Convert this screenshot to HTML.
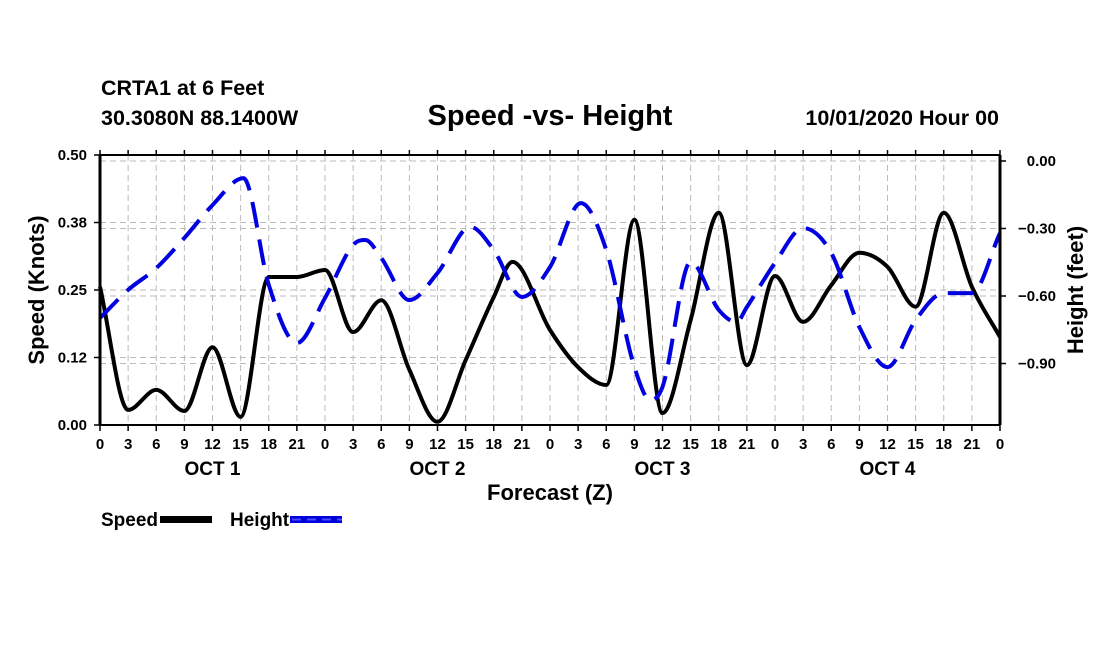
<!DOCTYPE html>
<html><head><meta charset="utf-8"><style>
html,body{margin:0;padding:0;background:#fff;}
svg{display:block;font-family:"Liberation Sans",Arial,sans-serif;font-weight:bold;}
</style></head><body>
<svg id="chart" width="1100" height="650" viewBox="0 0 1100 650">
<text x="101" y="95" font-size="21.5">CRTA1 at 6 Feet</text>
<text x="101" y="125" font-size="21.5">30.3080N 88.1400W</text>
<text x="550" y="125" font-size="29" text-anchor="middle">Speed -vs- Height</text>
<text x="999" y="125" font-size="21.5" text-anchor="end">10/01/2020 Hour 00</text>
<g id="grid"></g>
<g id="marks"></g>
<g id="axes"></g>
<text transform="translate(44,290) rotate(-90)" font-size="22" text-anchor="middle">Speed (Knots)</text>
<text transform="translate(1083,290) rotate(-90)" font-size="22" text-anchor="middle">Height (feet)</text>
<text x="550" y="500" font-size="22" text-anchor="middle">Forecast (Z)</text>
<g>
<text x="101" y="526" font-size="19">Speed</text>
<rect x="160" y="516" width="52" height="7" fill="#000"/>
<text x="230" y="526" font-size="19">Height</text>
<rect x="290" y="516" width="52" height="7" fill="#0000dd"/>
<line x1="292" y1="519.5" x2="342" y2="519.5" stroke="#4a4aff" stroke-width="2" stroke-dasharray="9,6"/>
</g>
</svg>
<script>
const speedHours=[0,3,6,9,12,15,18,21,24,27,30,33,36,39,42,44,48,51,54,57,60,63,66,69,72,75,78,81,84,87,90,93,96];
const speedValues=[0.256,0.028,0.065,0.026,0.144,0.015,0.274,0.274,0.287,0.172,0.231,0.102,0.006,0.120,0.237,0.302,0.176,0.107,0.074,0.380,0.022,0.194,0.393,0.111,0.276,0.191,0.259,0.319,0.293,0.219,0.393,0.256,0.163];
const heightHours=[0,3,6,9,12,15.3,18,21,24,27,28.3,30,33,36,39.5,42,45,48,51.3,54,57,58.7,60,63,66,67.9,69,72,75,78,81,84,87,90,93,96];
const heightValues=[-0.698,-0.573,-0.476,-0.342,-0.196,-0.076,-0.551,-0.809,-0.609,-0.373,-0.351,-0.431,-0.618,-0.498,-0.293,-0.396,-0.604,-0.471,-0.187,-0.396,-0.916,-1.062,-1.004,-0.449,-0.662,-0.716,-0.649,-0.453,-0.298,-0.409,-0.738,-0.916,-0.707,-0.587,-0.587,-0.320];
const hourTickLabels=["0","3","6","9","12","15","18","21","0","3","6","9","12","15","18","21","0","3","6","9","12","15","18","21","0","3","6","9","12","15","18","21","0"];
const dayLabels=["OCT 1","OCT 2","OCT 3","OCT 4"];
const speedTicks=[0,0.125,0.25,0.375,0.5];
const speedTickLabels=["0.00","0.12","0.25","0.38","0.50"];
const heightTicks=[0,-0.3,-0.6,-0.9];
const heightTickLabels=["0.00","\u22120.30","\u22120.60","\u22120.90"];

const L=100,R=1000,T=155,B=425;
const x=h=>L+h*(R-L)/96;
const yS=v=>B-v*540;
const yH=v=>161-v*225;
const NS="http://www.w3.org/2000/svg";
function mk(tag,attrs,parent){const e=document.createElementNS(NS,tag);for(const k in attrs)e.setAttribute(k,attrs[k]);parent.appendChild(e);return e;}
const grid=document.getElementById('grid'),marks=document.getElementById('marks'),axes=document.getElementById('axes');

for(let i=1;i<32;i++){
  const l=mk('line',{x1:x(i*3),x2:x(i*3),y1:T,y2:B,stroke:'#bbb','stroke-width':1,'stroke-dasharray':'6,4'},grid);
  
  
}
speedTicks.forEach(v=>{const l=mk('line',{x1:L,x2:R,y1:yS(v),y2:yS(v),stroke:'#bbb','stroke-width':1,'stroke-dasharray':'6,4'},grid);
  
  });
heightTicks.forEach(v=>{const l=mk('line',{x1:L,x2:R,y1:yH(v),y2:yH(v),stroke:'#bbb','stroke-width':1,'stroke-dasharray':'6,4'},grid);
  
  });

function monotone(hs,vs,yf){
  const px=hs.map(x),py=vs.map(yf),n=px.length;
  const d=[],m=[];
  for(let i=0;i<n-1;i++)d.push((py[i+1]-py[i])/(px[i+1]-px[i]));
  m[0]=d[0];m[n-1]=d[n-2];
  for(let i=1;i<n-1;i++){m[i]=(d[i-1]*d[i]<=0)?0:(d[i-1]+d[i])/2;}
  for(let i=0;i<n-1;i++){
    if(d[i]===0){m[i]=0;m[i+1]=0;continue;}
    const a=m[i]/d[i],b=m[i+1]/d[i],s=a*a+b*b;
    if(s>9){const t=3/Math.sqrt(s);m[i]=t*a*d[i];m[i+1]=t*b*d[i];}
  }
  let p='M'+px[0].toFixed(1)+','+py[0].toFixed(1);
  for(let i=0;i<n-1;i++){
    const h=(px[i+1]-px[i])/3;
    p+=' C'+(px[i]+h).toFixed(1)+','+(py[i]+m[i]*h).toFixed(1)+' '+(px[i+1]-h).toFixed(1)+','+(py[i+1]-m[i+1]*h).toFixed(1)+' '+px[i+1].toFixed(1)+','+py[i+1].toFixed(1);
  }
  return p;
}
const sp=mk('path',{d:monotone(speedHours,speedValues,yS),fill:'none',stroke:'#000','stroke-width':4,'stroke-linejoin':'round'},marks);


const hp=mk('path',{d:monotone(heightHours,heightValues,yH),fill:'none',stroke:'#0000e0','stroke-width':4,'stroke-dasharray':'26,12'},marks);



mk('line',{x1:L,x2:R,y1:T,y2:T,stroke:'#000','stroke-width':2},axes);
mk('line',{x1:L,x2:R,y1:B,y2:B,stroke:'#000','stroke-width':2},axes);
mk('line',{x1:L,x2:L,y1:T,y2:B,stroke:'#000','stroke-width':3},axes);
mk('line',{x1:R,x2:R,y1:T,y2:B,stroke:'#000','stroke-width':3},axes);
hourTickLabels.forEach((lab,i)=>{
  const xx=x(i*3);
  mk('line',{x1:xx,x2:xx,y1:B,y2:B+6,stroke:'#000','stroke-width':1.5},axes);
  mk('line',{x1:xx,x2:xx,y1:T,y2:T-5,stroke:'#000','stroke-width':1.5},axes);
  const t=mk('text',{x:xx,y:B+24,'font-size':15,'text-anchor':'middle'},axes);
  t.textContent=lab;
  
  
});
dayLabels.forEach((lab,i)=>{
  const t=mk('text',{x:x(i*24+12),y:B+50,'font-size':19,'text-anchor':'middle'},axes);
  t.textContent=lab;
  
  
});
speedTicks.forEach((v,i)=>{
  mk('line',{x1:L-6,x2:L,y1:yS(v),y2:yS(v),stroke:'#000','stroke-width':1.5},axes);
  const t=mk('text',{x:L-13,y:yS(v)+5,'font-size':15,'text-anchor':'end'},axes);
  t.textContent=speedTickLabels[i];
  
  
});
heightTicks.forEach((v,i)=>{
  mk('line',{x1:R,x2:R+6,y1:yH(v),y2:yH(v),stroke:'#000','stroke-width':1.5},axes);
  const t=mk('text',{x:R+56,y:yH(v)+5,'font-size':15,'text-anchor':'end'},axes);
  t.textContent=heightTickLabels[i];
  
  
});
</script>
</body></html>
